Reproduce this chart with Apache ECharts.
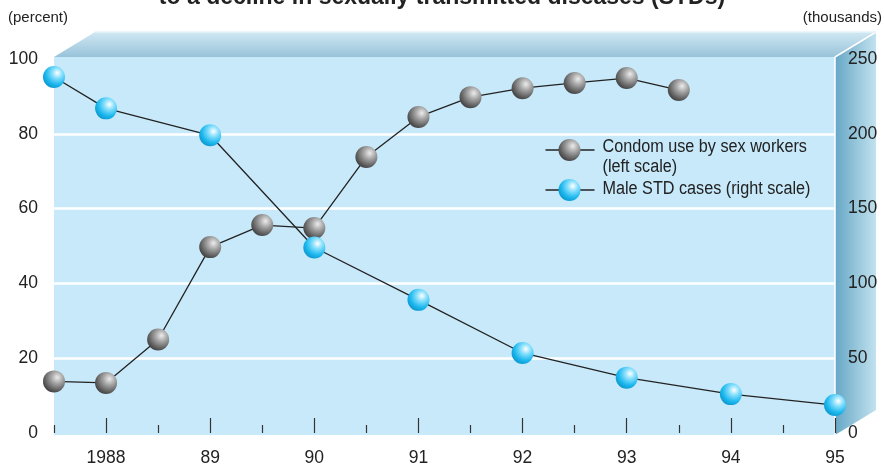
<!DOCTYPE html>
<html>
<head>
<meta charset="utf-8">
<script src="https://cdn.jsdelivr.net/npm/echarts@6/dist/echarts.min.js"></script>
<style>
  html, body { margin: 0; padding: 0; background: #ffffff; }
  #chart { width: 884px; height: 467px; }
</style>
</head>
<body>
<div id="chart"></div>
<script>
// Survey years (half-year steps for condom use, whole years for STD cases)
const condomYears = [1987.5, 1988, 1988.5, 1989, 1989.5, 1990, 1990.5, 1991, 1991.5, 1992, 1992.5, 1993, 1993.5];
const condomUse   = [13.8, 13.4, 25, 49.7, 55.6, 54.8, 73.8, 84.5, 89.8, 92.2, 93.6, 94.9, 91.7]; // percent
const stdYears    = [1987.5, 1988, 1989, 1990, 1991, 1992, 1993, 1994, 1995];
const stdCases    = [238, 217, 199, 124, 89, 53.5, 37, 26, 18.7]; // thousands

const yearTicks = [1988, 1989, 1990, 1991, 1992, 1993, 1994, 1995];
const halfTicks = [1987.5, 1988.5, 1989.5, 1990.5, 1991.5, 1992.5, 1993.5, 1994.5];

const titleText = 'to a decline in sexually transmitted diseases (STDs)';
const leftUnit = '(percent)';
const rightUnit = '(thousands)';
const legendCondom = ['Condom use by sex workers', '(left scale)'];
const legendStd = 'Male STD cases (right scale)';

const FONT = '"Liberation Sans Narrow", "Arial Narrow", "Liberation Sans", Arial, sans-serif';
const TXT = '#222222';

function greyBall() {
  return {
    type: 'radial', x: 0.65, y: 0.32, r: 0.75,
    colorStops: [
      { offset: 0, color: '#ececec' },
      { offset: 0.35, color: '#a8a8a8' },
      { offset: 0.75, color: '#636363' },
      { offset: 1, color: '#3c3c3c' }
    ]
  };
}
function blueBall() {
  return {
    type: 'radial', x: 0.65, y: 0.32, r: 0.75,
    colorStops: [
      { offset: 0, color: '#ffffff' },
      { offset: 0.3, color: '#8ae0fc' },
      { offset: 0.7, color: '#1cb8ee' },
      { offset: 1, color: '#0b94cc' }
    ]
  };
}

// plot box geometry
const PL = 54, PR = 835, PT = 57, PB = 435, DX = 41, DY = 25;

const chart = echarts.init(document.getElementById('chart'), null, { renderer: 'canvas' });

const option = {
  animation: false,
  backgroundColor: '#ffffff',
  textStyle: { fontFamily: FONT },
  title: {
    text: titleText,
    left: 'center',
    top: -19,
    textStyle: { fontFamily: FONT, fontWeight: 'bold', fontSize: 23, color: TXT }
  },
  grid: { left: PL, right: 884 - PR, top: 59, bottom: 467 - 433, containLabel: false },
  graphic: [
    // front panel
    { type: 'rect', z: -20, silent: true,
      shape: { x: PL, y: PT, width: PR - PL, height: PB - PT },
      style: { fill: '#c8e9fa' } },
    // top face
    { type: 'polygon', z: -20, silent: true,
      shape: { points: [[PL, PT], [PR, PT], [PR + DX, PT - DY], [PL + DX, PT - DY]] },
      style: { fill: { type: 'linear', x: 0, y: 0, x2: 0, y2: 1,
        colorStops: [{ offset: 0, color: '#d0e8f3' }, { offset: 1, color: '#98c3da' }] } } },
    // right wall
    { type: 'polygon', z: -20, silent: true,
      shape: { points: [[PR, PT], [PR + DX, PT - DY], [PR + DX, PB - DY], [PR, PB]] },
      style: { fill: { type: 'linear', x: 0, y: 0, x2: 1, y2: 0,
        colorStops: [{ offset: 0, color: '#66a7c6' }, { offset: 1, color: '#c2e2ef' }] } } },
    // highlight edges
    { type: 'polyline', z: -19, silent: true,
      shape: { points: [[PR, PB], [PR, PT], [PR + DX, PT - DY]] },
      style: { stroke: '#ffffff', lineWidth: 1.5, fill: null } },
    { type: 'line', z: -19, silent: true,
      shape: { x1: PL + DX, y1: PT - DY, x2: PR + DX, y2: PT - DY },
      style: { stroke: '#e6f3f9', lineWidth: 1.5 } },
    // unit captions
    { type: 'text', left: 8, top: 10, style: { text: leftUnit, font: '15px ' + FONT, fill: TXT } },
    { type: 'text', right: 2, top: 10, style: { text: rightUnit, font: '15px ' + FONT, fill: TXT } },
    // legend
    { type: 'group', left: 543, top: 137, children: [
      { type: 'line', shape: { x1: 0, y1: 13, x2: 49, y2: 13 }, style: { stroke: '#222', lineWidth: 1.3 } },
      { type: 'circle', shape: { cx: 24, cy: 13, r: 11 }, style: { fill: greyBall() } },
      { type: 'text', x: 57, y: 0, scaleX: 0.9,
        style: { text: legendCondom.join('\n'), font: '18px ' + FONT, fill: TXT, lineHeight: 20 } },
      { type: 'line', shape: { x1: 0, y1: 53, x2: 49, y2: 53 }, style: { stroke: '#222', lineWidth: 1.3 } },
      { type: 'circle', shape: { cx: 24, cy: 53, r: 11 }, style: { fill: blueBall() } },
      { type: 'text', x: 57, y: 43, scaleX: 0.9,
        style: { text: legendStd, font: '18px ' + FONT, fill: TXT } }
    ] }
  ],
  xAxis: [
    {
      type: 'value', min: 1987.5, max: 1995, interval: 0.5, offset: 2,
      axisLine: { show: false },
      splitLine: { show: false },
      axisTick: { show: true, inside: true, length: 15, customValues: yearTicks,
        lineStyle: { color: '#333', width: 1.2 } },
      axisLabel: {
        customValues: yearTicks, margin: 14,
        fontFamily: FONT, fontSize: 17.5, color: TXT,
        formatter: v => (v === 1988 ? '1988' : String(v).slice(2))
      }
    },
    {
      type: 'value', min: 1987.5, max: 1995, interval: 0.5, position: 'bottom', offset: 2,
      axisLine: { show: false },
      splitLine: { show: false },
      axisTick: { show: true, inside: true, length: 8, customValues: halfTicks,
        lineStyle: { color: '#333', width: 1.2 } },
      axisLabel: { show: false }
    }
  ],
  yAxis: [
    {
      type: 'value', min: 0, max: 100, interval: 20, position: 'left',
      axisLine: { show: false }, axisTick: { show: false },
      axisLabel: { margin: 16, fontFamily: FONT, fontSize: 17.5, color: TXT },
      splitLine: { show: true, showMinLine: false, showMaxLine: false,
        lineStyle: { color: '#ffffff', width: 2.5 } }
    },
    {
      type: 'value', min: 0, max: 250, interval: 50, position: 'right',
      axisLine: { show: false }, axisTick: { show: false },
      axisLabel: { margin: 13, fontFamily: FONT, fontSize: 17.5, color: TXT },
      splitLine: { show: false }
    }
  ],
  series: [
    {
      name: 'Condom use by sex workers (left scale)',
      type: 'line', xAxisIndex: 0, yAxisIndex: 0, clip: false,
      data: condomYears.map((y, i) => [y, condomUse[i]]),
      symbol: 'circle', symbolSize: 22,
      itemStyle: { color: greyBall() },
      lineStyle: { color: '#222', width: 1.3 },
      z: 3
    },
    {
      name: 'Male STD cases (right scale)',
      type: 'line', xAxisIndex: 0, yAxisIndex: 1, clip: false,
      data: stdYears.map((y, i) => [y, stdCases[i]]),
      symbol: 'circle', symbolSize: 22,
      itemStyle: { color: blueBall() },
      lineStyle: { color: '#222', width: 1.3 },
      z: 4
    }
  ]
};

chart.setOption(option);
</script>
</body>
</html>
